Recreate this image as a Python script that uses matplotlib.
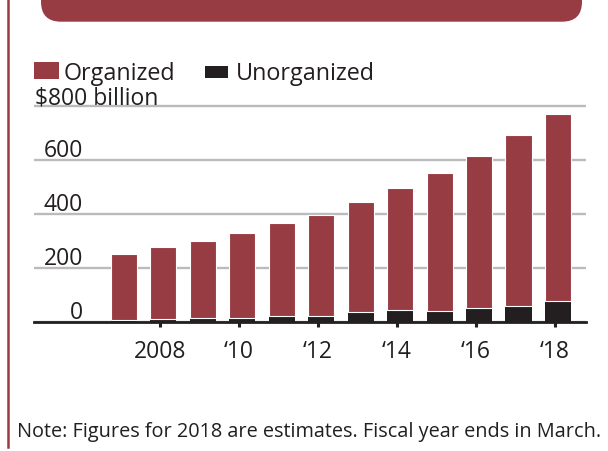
import matplotlib
matplotlib.use("Agg")
import matplotlib.pyplot as plt
from matplotlib.patches import FancyBboxPatch, Rectangle
from matplotlib.lines import Line2D

# Data (billions of dollars)
years = [2007, 2008, 2009, 2010, 2011, 2012, 2013, 2014, 2015, 2016, 2017, 2018]
unorganized = [7, 10, 14, 16, 23, 23, 36, 43, 40, 51, 58, 77]
organized = [246, 269, 287, 315, 342, 375, 407, 452, 511, 563, 634, 693]
y_ticks = [0, 200, 400, 600]
y_top_label = "$800 billion"
x_ticks = [2008, 2010, 2012, 2014, 2016, 2018]
x_labels = ["2008", "\u201810", "\u201812", "\u201814", "\u201816", "\u201818"]
note = "Note: Figures for 2018 are estimates. Fiscal year ends in March."

RED = "#983c43"
BLACK = "#231f20"
GRID = "#bbbbbb"
W, H = 6.08, 4.52

plt.rcParams["font.family"] = ["Open Sans", "DejaVu Sans"]

fig = plt.figure(figsize=(W, H), dpi=100)


def px(x, y):
    # figure pixel (top-left origin) -> inches for dpi_scale_trans
    return x / 100, H - y / 100


# Header band (cut off at the top) and left rule
fig.patches.append(FancyBboxPatch(px(41, 22.7), 5.41, 0.6,
                                  boxstyle="round,pad=0,rounding_size=0.2",
                                  transform=fig.dpi_scale_trans,
                                  facecolor=RED, edgecolor="none"))
fig.lines.append(Line2D([0.08, 0.08], [H, H - 4.48], color=RED, lw=1.8,
                        transform=fig.dpi_scale_trans))

# Legend
fig.patches.append(Rectangle(px(34, 80), 0.25, 0.17, transform=fig.dpi_scale_trans,
                             facecolor=RED, edgecolor="none"))
fig.patches.append(Rectangle(px(205, 79), 0.23, 0.12, transform=fig.dpi_scale_trans,
                             facecolor=BLACK, edgecolor="none"))
fig.text(*px(64, 80.5), "Organized", transform=fig.dpi_scale_trans,
         fontsize=16.8, color=BLACK, va="baseline")
fig.text(*px(236, 80.5), "Unorganized", transform=fig.dpi_scale_trans,
         fontsize=16.8, color=BLACK, va="baseline")

# Note
fig.text(*px(17, 437), note, transform=fig.dpi_scale_trans,
         fontsize=14.3, color=BLACK, va="baseline")

# Chart
ax = fig.add_axes([34 / 608, (452 - 323) / 452, 552 / 608, 218.7 / 452])
ax.set_xlim(2004.725, 2018.71)
ax.set_ylim(0, 810)

ax.bar(years, unorganized, width=0.66, color=BLACK, zorder=3)
ax.bar(years, organized, bottom=unorganized, width=0.66, color=RED,
       edgecolor="white", linewidth=0.8, zorder=3)

ax.set_yticks(y_ticks + [800])
ax.yaxis.grid(True, color=GRID, lw=1.7)
ax.set_axisbelow(True)
for s in ["top", "right", "left"]:
    ax.spines[s].set_visible(False)
ax.spines["bottom"].set_color(BLACK)
ax.spines["bottom"].set_linewidth(2)
ax.spines["bottom"].set_zorder(4)

ax.tick_params(axis="y", length=0, labelleft=False)
ax.set_xticks([x - 0.08 for x in x_ticks])
ax.tick_params(axis="x", length=3.6, width=2.2, color=BLACK, labelbottom=False)

for v in y_ticks:
    ax.annotate(str(v), xy=(0.089, v), xycoords=ax.get_yaxis_transform(),
                xytext=(0, 4), textcoords="offset pixels",
                ha="right", va="baseline", fontsize=16.5, color=BLACK)
ax.annotate(y_top_label, xy=(0.002, 800), xycoords=ax.get_yaxis_transform(),
            xytext=(0, 3), textcoords="offset pixels",
            ha="left", va="baseline", fontsize=16.5, color=BLACK)

for x, lab in zip(x_ticks, x_labels):
    ax.annotate(lab, xy=(x - 0.08, 0), xycoords="data",
                xytext=(0, -35), textcoords="offset pixels",
                ha="center", va="baseline", fontsize=16.5, color=BLACK)

fig.savefig("out.png", dpi=100)
